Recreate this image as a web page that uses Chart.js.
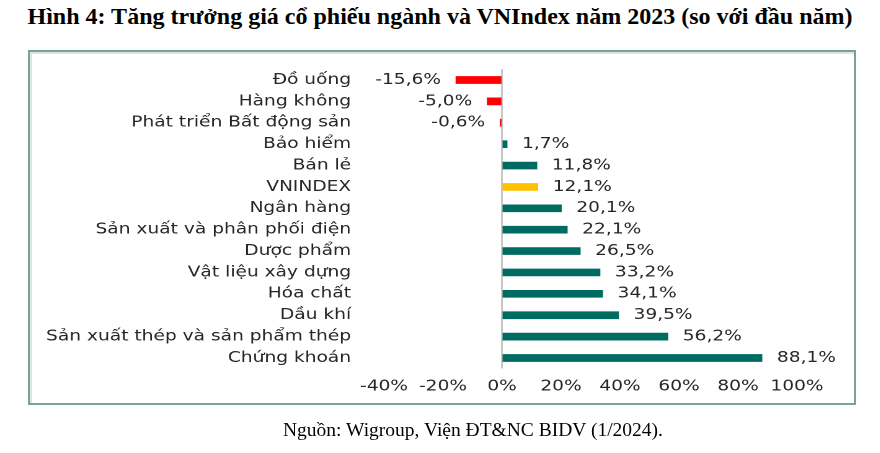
<!DOCTYPE html>
<html>
<head>
<meta charset="utf-8">
<script src="https://cdn.jsdelivr.net/npm/chart.js@4.4.0/dist/chart.umd.min.js"></script>
<style>
    body { margin: 0; background: #fff; }
    #page { position: relative; width: 880px; height: 453px; overflow: hidden; }
    #title {
        position: absolute; left: 0; top: 3px; width: 880px; text-align: center;
        font-family: "Liberation Serif", "Times New Roman", serif; font-weight: bold;
        font-size: 24px; color: #000; white-space: nowrap;
    }
    #box {
        position: absolute; left: 28px; top: 50px; width: 824px; height: 351px;
        border: 2px solid #78a29b; box-shadow: inset 1px 1px 0 1px #e2e2e2;
    }
    #source {
        position: absolute; left: 273px; top: 419px; width: 400px; text-align: center;
        font-family: "Liberation Serif", "Times New Roman", serif; font-size: 19.5px;
        color: #000; white-space: nowrap;
    }
    #chart { position: absolute; left: 0; top: 0; transform: scaleX(1.24); transform-origin: 0 0; }
</style>
</head>
<body>
<div id="page">
    <div id="title">Hình 4: Tăng trưởng giá cổ phiếu ngành và VNIndex năm 2023 (so với đầu năm)</div>
    <div id="box"></div>
    <canvas id="chart" width="710" height="453"></canvas>
    <div id="source">Nguồn: Wigroup, Viện ĐT&amp;NC BIDV (1/2024).</div>
</div>
<script>
const sectors = [
    'Đồ uống', 'Hàng không', 'Phát triển Bất động sản', 'Bảo hiểm', 'Bán lẻ', 'VNINDEX',
    'Ngân hàng', 'Sản xuất và phân phối điện', 'Dược phẩm', 'Vật liệu xây dựng',
    'Hóa chất', 'Dầu khí', 'Sản xuất thép và sản phẩm thép', 'Chứng khoán'
];
const growth = [-15.6, -5.0, -0.6, 1.7, 11.8, 12.1, 20.1, 22.1, 26.5, 33.2, 34.1, 39.5, 56.2, 88.1];
const xTicks = [-40, -20, 0, 20, 40, 60, 80, 100];

const stretch = 1.24; // chữ trong ảnh gốc bị kéo giãn ngang
const canvasWidth = 710;
const labelFont = { family: 'DejaVu Sans', size: 15 };
const textColor = '#262626';

const barColors = sectors.map((name, i) => {
    if (name === 'VNINDEX') return '#ffc000';
    return growth[i] < 0 ? '#ff0000' : '#006b61';
});

// Nhãn giá trị ở đầu mỗi thanh
const valueLabels = {
    id: 'valueLabels',
    afterDatasetsDraw(chart) {
        const ctx = chart.ctx;
        const meta = chart.getDatasetMeta(0);
        ctx.save();
        ctx.font = labelFont.size + 'px ' + labelFont.family;
        ctx.fillStyle = textColor;
        ctx.textBaseline = 'middle';
        meta.data.forEach((bar, i) => {
            const v = growth[i];
            const text = v.toFixed(1).replace('.', ',') + '%';
            const gap = 15 / stretch;
            if (v < 0) {
                ctx.textAlign = 'right';
                ctx.fillText(text, bar.x - gap, bar.y);
            } else {
                ctx.textAlign = 'left';
                ctx.fillText(text, bar.x + gap, bar.y);
            }
        });
        ctx.restore();
    }
};

new Chart(document.getElementById('chart').getContext('2d'), {
    type: 'bar',
    data: {
        labels: sectors,
        datasets: [{
            data: growth,
            backgroundColor: barColors,
            barThickness: 7,
        }],
    },
    options: {
        indexAxis: 'y',
        responsive: false,
        animation: false,
        devicePixelRatio: 2,
        layout: { padding: { left: 0, top: 69.3, right: canvasWidth - 797 / stretch, bottom: 54 } },
        plugins: { legend: { display: false }, tooltip: { enabled: false } },
        scales: {
            x: {
                min: -40,
                max: 100,
                afterBuildTicks: (scale) => { scale.ticks = xTicks.map(v => ({ value: v })); },
                ticks: {
                    callback: (v) => v + '%',
                    font: labelFont,
                    color: textColor,
                    padding: 9,
                    maxRotation: 0,
                },
                grid: {
                    drawTicks: false,
                    color: (c) => (c.tick && c.tick.value === 0 ? '#c8c8c8' : 'transparent'),
                    lineWidth: 1.5,
                },
                border: { display: false },
                afterFit: (scale) => { scale.height = 453 - 54 - 368.7; },
            },
            y: {
                ticks: { font: labelFont, color: textColor, padding: 23 / stretch },
                grid: { display: false },
                border: { display: false },
                afterFit: (scale) => { scale.width = 384 / stretch; },
            },
        },
    },
    plugins: [valueLabels],
});
</script>
</body>
</html>
